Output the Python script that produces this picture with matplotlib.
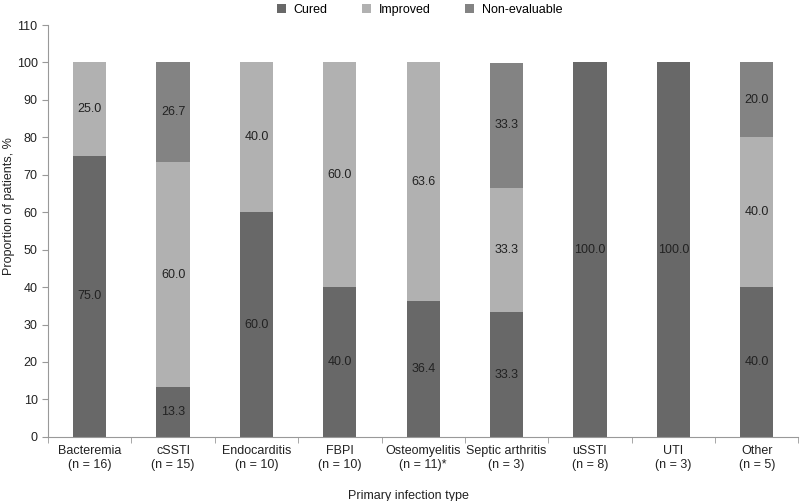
import numpy as np
import matplotlib
matplotlib.use("Agg")
import matplotlib.pyplot as plt
from matplotlib.ticker import FixedLocator

plt.rcParams['font.family'] = ['Liberation Sans', 'DejaVu Sans']
plt.rcParams['font.size'] = 9

categories = ['Bacteremia\n(n = 16)', 'cSSTI\n(n = 15)', 'Endocarditis\n(n = 10)',
              'FBPI\n(n = 10)', 'Osteomyelitis\n(n = 11)*', 'Septic arthritis\n(n = 3)',
              'uSSTI\n(n = 8)', 'UTI\n(n = 3)', 'Other\n(n = 5)']
cured = [75.0, 13.3, 60.0, 40.0, 36.4, 33.3, 100.0, 100.0, 40.0]
improved = [25.0, 60.0, 40.0, 60.0, 63.6, 33.3, 0, 0, 40.0]
non_evaluable = [0, 26.7, 0, 0, 0, 33.3, 0, 0, 20.0]

series = [('Cured', cured, '#686868'),
          ('Improved', improved, '#b1b1b1'),
          ('Non-evaluable', non_evaluable, '#838383')]

fig = plt.figure(figsize=(8, 5.01), dpi=100)
ax = fig.add_axes([0.06, 0.128, 0.938, 0.822])

x = np.arange(len(categories))
bottom = np.zeros(len(categories))
for name, vals, col in series:
    vals = np.array(vals, dtype=float)
    ax.bar(x, vals, 0.4, bottom=bottom, color=col, label=name, edgecolor='none')
    for xi, b, v in zip(x, bottom, vals):
        if v > 0:
            ax.text(xi, b + v / 2, f'{v:.1f}', ha='center', va='center',
                    fontsize=9, color='#222222')
    bottom += vals

ax.set_xlim(-0.5, len(categories) - 0.5)
ax.set_ylim(0, 110)
ax.set_yticks(np.arange(0, 111, 10))
ax.set_xticks(x)
ax.set_xticklabels(categories, color='#222222')
ax.tick_params(axis='x', which='major', length=0, pad=6)
ax.xaxis.set_minor_locator(FixedLocator(np.arange(-0.5, len(categories), 1.0)))
ax.tick_params(axis='x', which='minor', length=4, color='#999999', direction='out')
ax.tick_params(axis='y', length=4, color='#999999', labelcolor='#222222')

for s in ['top', 'right']:
    ax.spines[s].set_visible(False)
for s in ['left', 'bottom']:
    ax.spines[s].set_color('#999999')

ax.set_ylabel('Proportion of patients, %', color='#222222')
ax.yaxis.set_label_coords(-0.044, 0.56)
ax.set_xlabel('Primary infection type', color='#222222')
ax.xaxis.set_label_coords(0.48, -0.128)

ax.legend(loc='upper center', bbox_to_anchor=(0.495, 1.078), ncol=3, frameon=False,
          handlelength=0.7, handleheight=0.7, handletextpad=0.6, columnspacing=2.8,
          fontsize=9)

fig.savefig('out.png', dpi=100)
